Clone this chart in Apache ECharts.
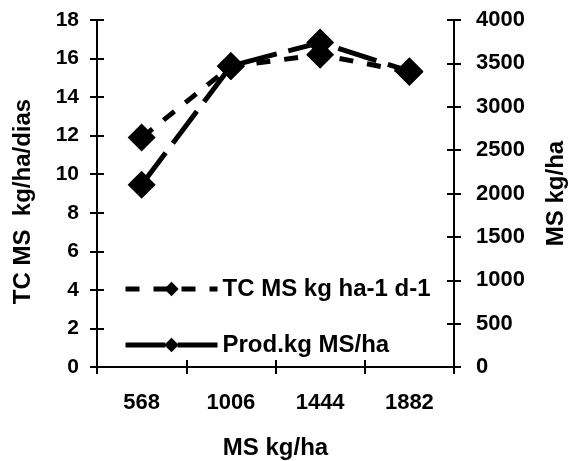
<!DOCTYPE html>
<html><head><meta charset="utf-8">
<script src="https://cdn.jsdelivr.net/npm/echarts@6/dist/echarts.min.js"></script>
<style>html,body{margin:0;padding:0;background:#fff}#c{width:568px;height:461px}</style>
</head><body><div id="c"></div>
<script>
var categories = ['568', '1006', '1444', '1882'];
var tcValues = [11.9, 15.6, 16.2, 15.3];
var prodValues = [2100, 3470, 3740, 3410];
var leftTicks = {min: 0, max: 18, interval: 2};
var rightTicks = {min: 0, max: 4000, interval: 500};

var F = 'Liberation Sans, Arial, sans-serif';
function ts(size) { return {color: '#000', fontFamily: F, fontWeight: 'bold', fontSize: size}; }
var line = {show: true, lineStyle: {color: '#000', width: 2}};
function plain(v) { return String(v); }

var chart = echarts.init(document.getElementById('c'), null, {renderer: 'canvas'});
chart.setOption({
  animation: false,
  backgroundColor: '#fff',
  grid: {left: 97, right: 114, top: 20, bottom: 94, containLabel: false, outerBoundsMode: 'none'},
  legend: {
    orient: 'vertical', left: 118, top: 272, itemGap: 32,
    itemWidth: 92, itemHeight: 18,
    lineStyle: {width: 5},
    textStyle: Object.assign({padding: [0, 0, 0, 0]}, ts(24)),
    data: ['TC MS kg ha-1 d-1', 'Prod.kg MS/ha']
  },
  xAxis: [{
    type: 'category', data: categories, boundaryGap: true,
    axisLine: line,
    axisTick: {show: true, length: 7, lineStyle: {color: '#000', width: 2}},
    axisLabel: Object.assign({margin: 25}, ts(22)),
    name: 'MS kg/ha', nameLocation: 'middle', nameGap: 69,
    nameTextStyle: ts(24)
  }, {
    type: 'category', data: categories, boundaryGap: true, position: 'bottom',
    axisLine: {show: false},
    axisTick: {show: true, inside: true, length: 7, lineStyle: {color: '#000', width: 2}},
    axisLabel: {show: false}
  }],
  yAxis: [{
    type: 'value', min: leftTicks.min, max: leftTicks.max, interval: leftTicks.interval, position: 'left',
    axisLine: line,
    axisTick: {show: true, length: 7, lineStyle: {color: '#000', width: 2}},
    axisLabel: Object.assign({margin: 18, formatter: plain}, ts(21)),
    splitLine: {show: false},
    name: 'TC MS  kg/ha/dias', nameLocation: 'middle', nameGap: 62, nameRotate: 90,
    nameTextStyle: Object.assign({padding: [0, 16, 0, 0]}, ts(24))
  }, {
    type: 'value', min: rightTicks.min, max: rightTicks.max, interval: rightTicks.interval, position: 'right',
    axisLine: line,
    axisTick: {show: true, length: 7, lineStyle: {color: '#000', width: 2}},
    axisLabel: Object.assign({margin: 22, formatter: plain}, ts(22)),
    splitLine: {show: false},
    name: 'MS kg/ha', nameLocation: 'middle', nameGap: 90, nameRotate: 90,
    nameTextStyle: ts(24)
  }, {
    type: 'value', min: leftTicks.min, max: leftTicks.max, interval: leftTicks.interval, position: 'left',
    axisLine: {show: false}, axisLabel: {show: false}, splitLine: {show: false},
    axisTick: {show: true, inside: true, length: 7, lineStyle: {color: '#000', width: 2}}
  }, {
    type: 'value', min: rightTicks.min, max: rightTicks.max, interval: rightTicks.interval, position: 'right',
    axisLine: {show: false}, axisLabel: {show: false}, splitLine: {show: false},
    axisTick: {show: true, inside: true, length: 7, lineStyle: {color: '#000', width: 2}}
  }],
  series: [{
    name: 'TC MS kg ha-1 d-1', type: 'line', yAxisIndex: 0, data: tcValues,
    symbol: 'diamond', symbolSize: 28,
    itemStyle: {color: '#000'},
    lineStyle: {color: '#000', width: 5, type: [14, 14]}
  }, {
    name: 'Prod.kg MS/ha', type: 'line', yAxisIndex: 1, data: prodValues,
    symbol: 'diamond', symbolSize: 28,
    itemStyle: {color: '#000'},
    lineStyle: {color: '#000', width: 5, type: [40, 12]}
  }]
});
</script></body></html>
